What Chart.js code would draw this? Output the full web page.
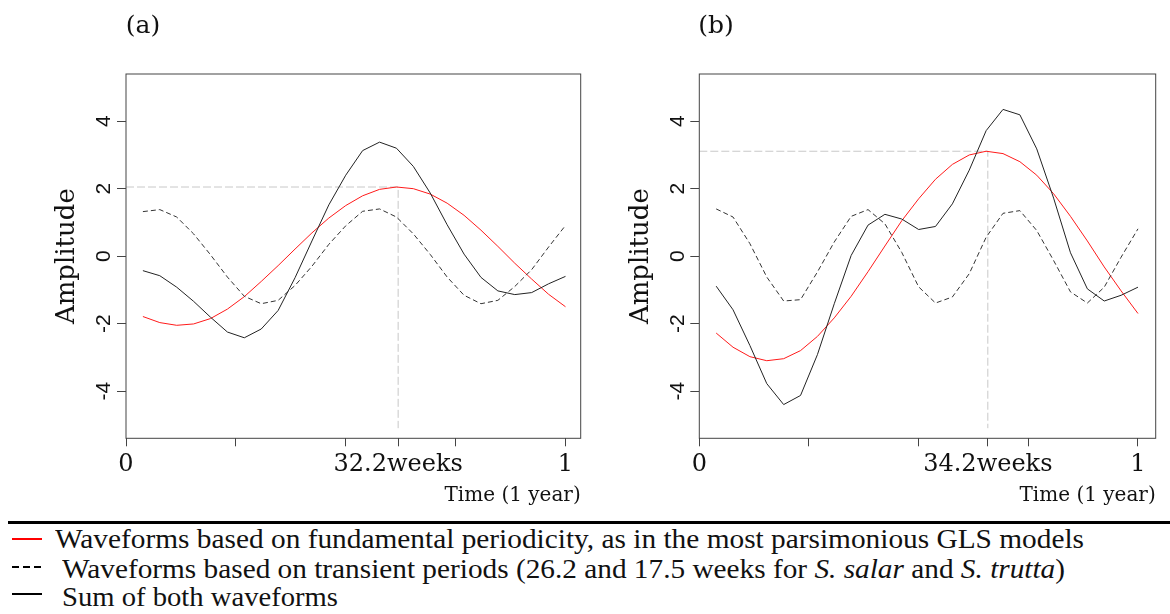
<!DOCTYPE html>
<html>
<head>
<meta charset="utf-8">
<script src="https://cdn.jsdelivr.net/npm/chart.js@4.4.1/dist/chart.umd.min.js"></script>
<style>
  body { margin: 0; background: #fff; }
  #page { position: relative; width: 1170px; height: 614px; overflow: hidden; }
  canvas { position: absolute; top: 0; }
  .panel { position: absolute; top: 12px; width: 60px; text-align: center; font-family: "DejaVu Serif", serif; font-size: 25px; line-height: 25px; color: #111; }
  .rule { position: absolute; left: 8px; top: 521px; width: 1162px; height: 3px; background: #000; }
  .key { position: absolute; left: 12px; width: 30px; height: 2px; }
  .txt { position: absolute; font-family: "Liberation Serif", serif; font-size: 28px; line-height: 28px; white-space: nowrap; transform-origin: 0 0; color: #111; }
</style>
</head>
<body>
<div id="page">
  <canvas id="chartA" width="590" height="515" style="left:0"></canvas>
  <canvas id="chartB" width="580" height="515" style="left:590px"></canvas>
  <div class="panel" style="left:113px">(a)</div>
  <div class="panel" style="left:686px">(b)</div>
  <div class="rule"></div>
  <div class="key" style="top:538px;background:#ff0000"></div>
  <div class="key" style="top:566px;background:repeating-linear-gradient(to right,#000 0 7px,transparent 7px 11px)"></div>
  <div class="key" style="top:593px;background:#000"></div>
  <div class="txt" data-w="1029" style="left:55px;top:525px">Waveforms based on fundamental periodicity, as in the most parsimonious GLS models</div>
  <div class="txt" data-w="1003" style="left:62px;top:555px">Waveforms based on transient periods (26.2 and 17.5 weeks for <i>S. salar</i> and <i>S. trutta</i>)</div>
  <div class="txt" data-w="276" style="left:62px;top:583px">Sum of both waveforms</div>
</div>
<script>
// sampling points, every 2 weeks over one year
const weeks = [2, 4, 6, 8, 10, 12, 14, 16, 18, 20, 22, 24, 26, 28, 30, 32, 34, 36, 38, 40, 42, 44, 46, 48, 50, 52];

// (a) S. salar
const fundA = [-1.79, -1.97, -2.05, -2.01, -1.85, -1.57, -1.20, -0.75, -0.28, 0.21, 0.69, 1.13, 1.50, 1.79, 1.98, 2.05, 2.00, 1.84, 1.57, 1.21, 0.77, 0.29, -0.21, -0.68, -1.13, -1.50];
const transA = [1.32, 1.38, 1.16, 0.66, 0.04, -0.62, -1.19, -1.41, -1.31, -0.87, -0.30, 0.35, 0.90, 1.33, 1.40, 1.16, 0.66, 0.05, -0.62, -1.16, -1.41, -1.31, -0.90, -0.40, 0.27, 0.91];
const sumA = [-0.43, -0.58, -0.92, -1.34, -1.81, -2.25, -2.42, -2.16, -1.61, -0.64, 0.45, 1.52, 2.40, 3.13, 3.38, 3.20, 2.66, 1.87, 0.93, 0.06, -0.63, -1.03, -1.14, -1.08, -0.82, -0.60];
const peakWeekA = 32.2;
const peakAmpA = 2.05;

// (b) S. trutta
const fundB = [-2.28, -2.70, -2.98, -3.10, -3.04, -2.80, -2.38, -1.83, -1.19, -0.46, 0.30, 1.05, 1.70, 2.28, 2.72, 3.00, 3.11, 3.04, 2.80, 2.40, 1.85, 1.18, 0.45, -0.32, -1.03, -1.70];
const transB = [1.40, 1.16, 0.37, -0.62, -1.33, -1.29, -0.47, 0.42, 1.18, 1.38, 0.96, 0.11, -0.91, -1.39, -1.21, -0.52, 0.56, 1.27, 1.35, 0.76, -0.13, -1.06, -1.39, -0.92, -0.03, 0.81];
const sumB = [-0.89, -1.59, -2.65, -3.78, -4.40, -4.13, -2.92, -1.41, 0.02, 0.92, 1.24, 1.10, 0.79, 0.88, 1.55, 2.55, 3.72, 4.35, 4.19, 3.18, 1.72, 0.10, -0.97, -1.33, -1.16, -0.92];
const peakWeekB = 34.2;
const peakAmpB = 3.11;

const guideBottom = -5.1;
const yTicks = [-4, -2, 0, 2, 4];
const xTickWeeks = [0, 13, 26, 39, 52];

const boxPlugin = {
    id: 'box',
    afterDatasetsDraw(chart) {
        const { ctx, chartArea: a } = chart;
        ctx.save();
        ctx.strokeStyle = '#444';
        ctx.lineWidth = 1;
        ctx.strokeRect(a.left, a.top, a.right - a.left, a.bottom - a.top);
        ctx.restore();
    }
};

function toPoints(values) {
    return weeks.map((w, i) => ({ x: w, y: values[i] }));
}

function makePanel(id, p) {
    const canvas = document.getElementById(id);
    const ctx = canvas.getContext('2d');

    const data = {
        datasets: [
            { data: toPoints(p.sum), borderColor: '#222', borderWidth: 1 },
            { data: toPoints(p.trans), borderColor: '#333', borderWidth: 1, borderDash: [5, 3] },
            { data: toPoints(p.fund), borderColor: '#ff1a1a', borderWidth: 1 },
            {
                data: [{ x: 0, y: p.peakAmp }, { x: p.peakWeek, y: p.peakAmp }, { x: p.peakWeek, y: guideBottom }],
                borderColor: '#c8c8c8', borderWidth: 1, borderDash: [8, 3]
            }
        ]
    };

    const config = {
        type: 'line',
        data: data,
        options: {
            responsive: false,
            animation: false,
            layout: { padding: { left: 0, top: 74, right: p.padRight, bottom: 0 } },
            plugins: { legend: { display: false }, tooltip: { enabled: false } },
            elements: { point: { radius: 0 }, line: { tension: 0 } },
            scales: {
                x: {
                    type: 'linear',
                    min: 0,
                    max: p.xMax,
                    afterBuildTicks: s => {
                        s.ticks = xTickWeeks.concat([p.peakWeek]).sort((a, b) => a - b).map(v => ({ value: v }));
                    },
                    afterFit: s => { s.height = canvas.height - 438.3; },
                    grid: { drawOnChartArea: false, tickLength: 8, color: '#444' },
                    border: { display: false },
                    ticks: {
                        autoSkip: false, minRotation: 0, maxRotation: 0, padding: 4, color: '#111',
                        font: { family: 'DejaVu Serif', size: 24 },
                        callback: v => {
                            if (v === 0) return '0';
                            if (v === 52) return '1';
                            if (v === p.peakWeek) return p.peakWeek + 'weeks';
                            return '';
                        }
                    },
                    title: {
                        display: true, text: 'Time (1 year)', align: 'end', color: '#111',
                        font: { family: 'DejaVu Serif', size: 20 },
                        padding: { top: 0, bottom: 7 }
                    }
                },
                y: {
                    min: -5.4,
                    max: 5.4,
                    afterBuildTicks: s => { s.ticks = yTicks.map(v => ({ value: v })); },
                    afterFit: s => { s.width = p.yWidth; },
                    grid: { drawOnChartArea: false, tickLength: 9, color: '#444' },
                    border: { display: false },
                    ticks: {
                        minRotation: 90, maxRotation: 90, crossAlign: 'center', padding: 3, color: '#111',
                        font: { family: 'Liberation Sans', size: 21 }
                    },
                    title: {
                        display: true, text: 'Amplitude', color: '#111',
                        font: { family: 'DejaVu Serif', size: 26 },
                        padding: { top: p.titlePad, bottom: 0 }
                    }
                }
            }
        },
        plugins: [boxPlugin]
    };

    return new Chart(ctx, config);
}

makePanel('chartA', { fund: fundA, trans: transA, sum: sumA, peakWeek: peakWeekA, peakAmp: peakAmpA, xMax: 53.8, padRight: 9.3, yWidth: 126, titlePad: 52 });
makePanel('chartB', { fund: fundB, trans: transB, sum: sumB, peakWeek: peakWeekB, peakAmp: peakAmpB, xMax: 54.1, padRight: 14.3, yWidth: 109.3, titlePad: 36 });

// squeeze the legend lines to the widths seen in the figure
document.fonts.ready.then(() => {
    document.querySelectorAll('.txt').forEach(el => {
        const w = el.getBoundingClientRect().width;
        el.style.transform = 'scaleX(' + (+el.dataset.w / w) + ')';
    });
});
</script>
</body>
</html>
